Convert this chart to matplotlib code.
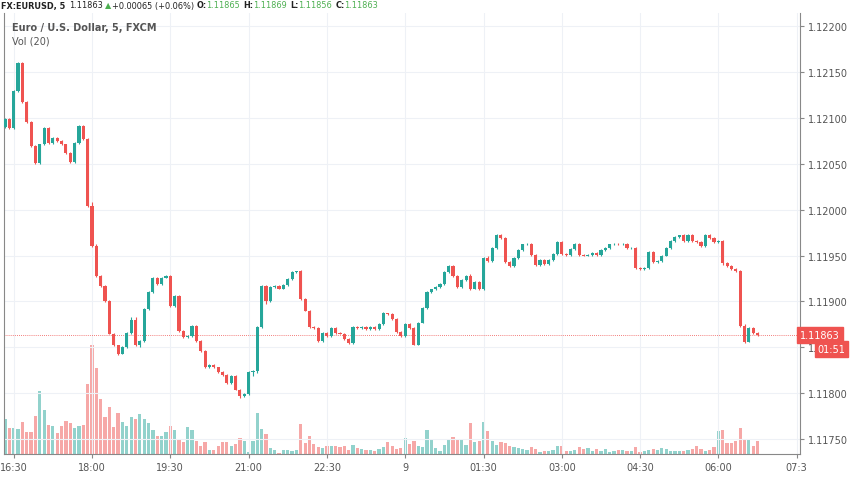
import matplotlib
matplotlib.use("Agg")
import matplotlib.pyplot as plt
from matplotlib.patches import Rectangle

closes = [
 1.12099,1.12089,1.12129,1.12160,1.12117,1.12095,1.12069,1.12051,1.12071,1.12089,
 1.12073,1.12078,1.12075,1.12071,1.12062,1.12052,1.12073,1.12091,1.12077,1.12004,
 1.11960,1.11928,1.11917,1.11900,1.11865,1.11852,1.11843,1.11850,1.11866,1.11880,
 1.11852,1.11857,1.11892,1.11910,1.11926,1.11919,1.11926,1.11928,1.11895,1.11906,
 1.11868,1.11861,1.11862,1.11873,1.11857,
 1.11846,1.11828,1.11831,1.11828,1.11823,1.11820,1.11811,1.11819,1.11804,1.11797,
 1.11799,1.11823,1.11824,1.11872,1.11917,1.11900,1.11916,1.11917,1.11914,1.11918,
 1.11924,1.11932,1.11933,1.11903,1.11890,1.11872,1.11871,1.11857,1.11866,1.11862,
 1.11871,1.11866,1.11865,1.11859,1.11855,1.11872,1.11871,1.11872,1.11870,1.11872,
 1.11870,1.11875,1.11887,1.11886,1.11881,1.11867,1.11862,1.11875,1.11871,1.11853,
 1.11877,1.11893,1.11910,
 1.11913,1.11916,1.11919,1.11932,1.11939,1.11928,1.11916,1.11923,1.11928,1.11914,
 1.11921,1.11913,1.11947,1.11944,1.11958,1.11972,1.11969,1.11943,1.11939,1.11947,
 1.11956,1.11962,1.11963,1.11951,1.11940,1.11945,1.11941,1.11945,1.11952,1.11965,
 1.11952,1.11951,1.11957,1.11963,1.11951,1.11950,1.11951,1.11953,1.11951,1.11956,
 1.11958,1.11962,1.11963,1.11962,1.11963,1.11958,1.11958,1.11936,1.11935,1.11936,
 1.11954,1.11943,1.11944,1.11950,1.11958,1.11966,1.11970,1.11972,1.11966,1.11972,
 1.11966,1.11965,1.11960,1.11972,1.11969,1.11965,1.11966,1.11942,1.11939,1.11935,
 1.11933,1.11873,1.11856,1.11871,1.11866,1.11863]
first_open = 1.12090
volumes = [
 35,26,26,25,32,22,22,38,63,44,29,28,21,28,33,31,26,28,29,70,
 109,86,55,37,47,27,41,32,28,37,35,40,35,31,24,18,18,22,28,24,15,12,27,24,13,
 8,12,4,4,8,12,12,8,10,16,13,2,13,41,25,20,6,4,1,4,4,3,4,30,11,18,10,7,6,8,
 8,8,7,8,4,9,6,5,4,4,3,5,7,12,8,5,6,16,10,13,8,7,24,
 14,6,3,9,14,17,15,15,9,31,12,13,32,23,13,9,12,11,8,7,6,5,4,7,5,2,3,3,4,8,
 8,3,3,4,7,5,6,3,5,3,5,2,3,4,4,3,3,7,2,3,4,5,4,6,5,3,3,3,3,4,
 5,8,5,3,4,7,23,24,11,11,13,26,15,14,8,13]
# wick extensions in pips (default 1.0)
upper_wicks = {3:0.4,17:1.4,18:1.0,20:4.6,21:2.0,29:2.7,30:3,34:1,36:1,38:1,56:1.2,61:0.9,
               67:0.4,88:0.9,93:2,103:0.9,107:1.5,111:2.3,121:1.1,149:1,155:0.6,162:1.1,170:2.8,172:1.3}
lower_wicks = {7:1.1,8:1.5,11:2,19:0.9,21:1.2,26:1.5,27:0.7,31:2,44:1,54:2.4,57:4.4,58:1.7,60:2.5,
               94:0.3,104:1.7,107:1.1,109:0.6,110:0.4,124:0.9,134:0.9,145:0.3,165:2.2,166:1.1,171:0.5}
tick_pos = [2,20,38,56,74,92,110,128,146,164,182]
tick_labels = ["16:30","18:00","19:30","21:00","22:30","9","01:30","03:00","04:30","06:00","07:3"]
price_ticks = [1.1175,1.118,1.1185,1.119,1.1195,1.12,1.1205,1.121,1.1215,1.122]
last_price = 1.11863

UP, DN = "#26a69a", "#ef5350"
W, H = 852, 485
fig = plt.figure(figsize=(W/100, H/100), dpi=100)
fig.patch.set_facecolor("white")
ax_l, ax_r, ax_t, ax_b = 4, 800, 14, 455
ax = fig.add_axes([ax_l/W, 1-ax_b/H, (ax_r-ax_l)/W, (ax_b-ax_t)/H])
px_per_bar = 4.35
ax.set_xlim((ax_l-5)/px_per_bar, (ax_r-5)/px_per_bar)
ppp = 91800.0
ax.set_ylim(1.122 - (ax_b-27)/ppp, 1.122 + (27-ax_t)/ppp)

axv = ax.twinx()
axv.set_ylim(0, ax_b-ax_t)
axv.set_axis_off()
ax.set_zorder(axv.get_zorder()+1); ax.patch.set_visible(False)

opens = [first_open] + closes[:-1]
for i, (o, c) in enumerate(zip(opens, closes)):
    col = UP if c >= o else DN
    hi = max(o, c) + upper_wicks.get(i, 1.0)*1e-5
    lo = min(o, c) - lower_wicks.get(i, 1.0)*1e-5
    ax.vlines(i, lo, hi, color=col, lw=0.8, zorder=3)
    b = max(abs(c-o), 0.6e-5)
    ax.add_patch(Rectangle((i-0.36, min(o, c)), 0.72, b, color=col, lw=0, zorder=4))
    axv.bar(i, volumes[i], width=0.75, color=col, alpha=0.5, lw=0)

for p in price_ticks:
    ax.axhline(p, color="#eef1f6", lw=0.8, zorder=0)
for t in tick_pos:
    ax.axvline(t, color="#eef1f6", lw=0.8, zorder=0)
ax.axhline(last_price, color=DN, lw=0.6, ls=(0, (1, 1.5)), zorder=2)

ax.set_xticks(tick_pos); ax.set_xticklabels(tick_labels, fontsize=7, color="#555")
ax.yaxis.tick_right()
ax.set_yticks(price_ticks)
ax.set_yticklabels([f"{p:.5f}" for p in price_ticks], fontsize=7, color="#555")
ax.tick_params(length=3, color="#888", pad=3)
ax.spines["top"].set_visible(False)
for s in ["left", "right", "bottom"]:
    ax.spines[s].set_color("#888")
    ax.spines[s].set_linewidth(0.8)

yt = ax.get_yaxis_transform()
ax.text(1.0, last_price, "1.11863", transform=yt, fontsize=7, color="white",
        va="center", ha="left", bbox=dict(boxstyle="square,pad=0.3", fc=DN, ec=DN), zorder=6)
ax.text(1.022, last_price-0.00015, "01:51", transform=yt, fontsize=7, color="white",
        va="center", ha="left", bbox=dict(boxstyle="square,pad=0.3", fc=DN, ec=DN), zorder=6)

# header: chained pieces
G = "#4caf50"
pieces = [("FX:EURUSD, 5", "#222", True, 4), ("1.11863", "#222", False, 2), ("\u25b2", G, False, 1),
          ("+0.00065 (+0.06%)", "#222", False, 2), ("O:", "#222", True, 0), ("1.11865", G, False, 3),
          ("H:", "#222", True, 0), ("1.11869", G, False, 3), ("L:", "#222", True, 0),
          ("1.11856", G, False, 3), ("C:", "#222", True, 0), ("1.11863", G, False, 0)]
r = fig.canvas.get_renderer()
x = 1
for s, c, b, gap in pieces:
    t = fig.text(x/W, 1-6/H, s, fontsize=5.9, color=c, va="center", ha="left",
                 fontweight="bold" if b else "normal")
    x += t.get_window_extent(r).width + gap
fig.text(12/W, 1-28/H, "Euro / U.S. Dollar, 5, FXCM", fontsize=7, color="#555", fontweight="bold", va="center")
fig.text(12/W, 1-41/H, "Vol (20)", fontsize=7, color="#555", va="center")
fig.savefig("out.png", dpi=100)
